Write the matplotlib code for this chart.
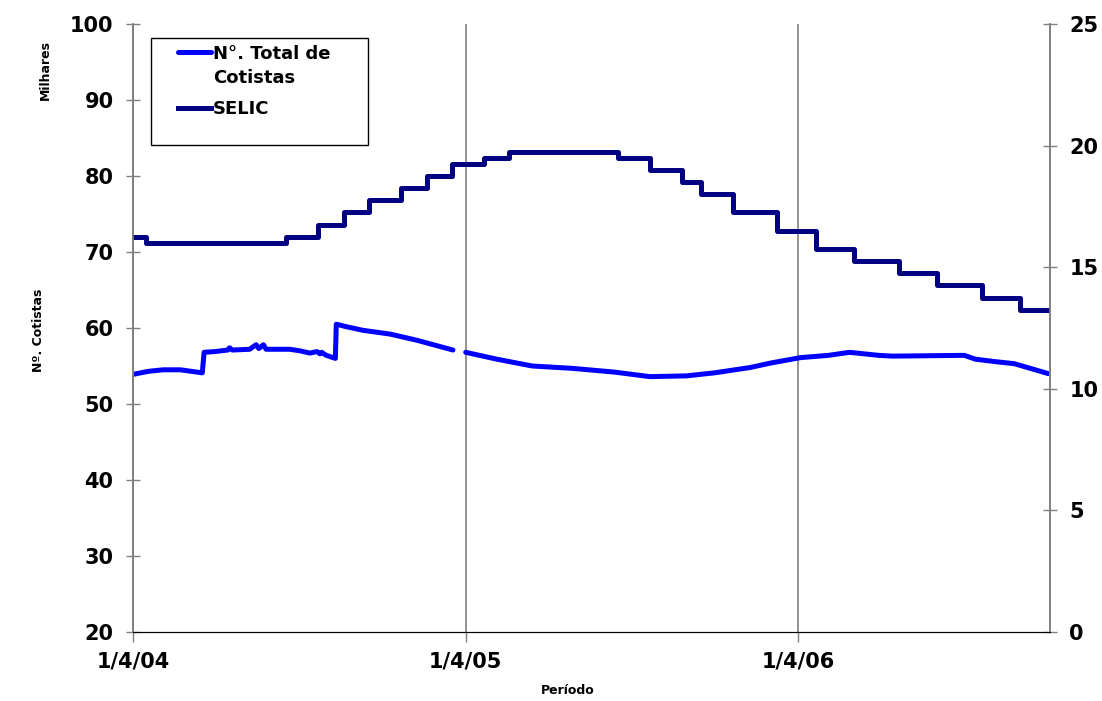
import matplotlib
matplotlib.use('Agg')
import matplotlib.pyplot as plt
from matplotlib.patches import Rectangle
from matplotlib.transforms import ScaledTranslation
import pandas as pd
import numpy as np

# Nº total de cotistas (milhares) - first stretch, up to March 2005
cot_dates_1 = ['2004-04-01', '2004-04-18', '2004-05-04', '2004-05-23', '2004-06-16',
               '2004-06-18', '2004-06-30', '2004-07-14', '2004-07-16', '2004-07-19',
               '2004-08-07', '2004-08-14', '2004-08-17', '2004-08-22', '2004-08-25',
               '2004-09-20', '2004-10-01', '2004-10-12', '2004-10-20', '2004-10-23',
               '2004-10-25', '2004-10-30', '2004-11-09', '2004-11-10', '2004-11-20',
               '2004-12-09', '2005-01-08', '2005-02-06', '2005-03-18']
cot_vals_1 = [53.9, 54.3, 54.5, 54.5, 54.1,
              56.8, 56.9, 57.1, 57.4, 57.1,
              57.2, 57.8, 57.3, 57.8, 57.2,
              57.2, 57.0, 56.7, 56.9, 56.6,
              56.8, 56.4, 56.0, 60.5, 60.2,
              59.7, 59.2, 58.4, 57.1]

# second stretch, from April 2005
cot_dates_2 = ['2005-04-01', '2005-05-05', '2005-06-13', '2005-07-26', '2005-09-11',
               '2005-10-20', '2005-11-29', '2005-12-30', '2006-02-07', '2006-03-02',
               '2006-04-03', '2006-05-04', '2006-05-27', '2006-06-28', '2006-07-13',
               '2006-09-30', '2006-10-12', '2006-11-01', '2006-11-24', '2006-12-31']
cot_vals_2 = [56.8, 55.9, 55.0, 54.7, 54.2,
              53.6, 53.7, 54.1, 54.8, 55.4,
              56.1, 56.4, 56.8, 56.4, 56.3,
              56.4, 55.9, 55.6, 55.3, 54.0]

# SELIC (% a.a.) - step changes
selic_dates = ['2004-04-01', '2004-04-15', '2004-09-16', '2004-10-21', '2004-11-18',
               '2004-12-16', '2005-01-20', '2005-02-17', '2005-03-17', '2005-04-21',
               '2005-05-19', '2005-09-15', '2005-10-20', '2005-11-24', '2005-12-15',
               '2006-01-19', '2006-03-09', '2006-04-20', '2006-06-01', '2006-07-20',
               '2006-08-31', '2006-10-19', '2006-11-30', '2006-12-31']
selic_vals = [16.25, 16.0, 16.25, 16.75, 17.25,
              17.75, 18.25, 18.75, 19.25, 19.5,
              19.75, 19.5, 19.0, 18.5, 18.0,
              17.25, 16.5, 15.75, 15.25, 14.75,
              14.25, 13.75, 13.25, 13.25]

xtick_dates = ['2004-04-01', '2005-04-01', '2006-04-01']
xtick_labels = ['1/4/04', '1/4/05', '1/4/06']

cot = pd.concat([
    pd.Series(cot_vals_1, index=pd.to_datetime(cot_dates_1)),
    pd.Series([np.nan], index=pd.to_datetime(['2005-03-25'])),
    pd.Series(cot_vals_2, index=pd.to_datetime(cot_dates_2)),
])
selic = pd.Series(selic_vals, index=pd.to_datetime(selic_dates))

fig = plt.figure(figsize=(11.02, 7.01), dpi=100)
ax = fig.add_axes([133 / 1102, 1 - 632 / 701, 917 / 1102, 608 / 701])
ax2 = ax.twinx()

l1, = ax.plot(cot.index, cot.values, color='#0000FF', lw=3.6,
              solid_capstyle='round', label='N°. Total de\nCotistas')
l2, = ax2.step(selic.index, selic.values, where='post', color='#000080', lw=3.6,
               label='SELIC')

ax.set_xlim(pd.Timestamp('2004-04-01'), pd.Timestamp('2007-01-02'))
ax.set_ylim(20, 100)
ax2.set_ylim(0, 25)
ax.set_yticks(range(20, 101, 10))
ax2.set_yticks(range(0, 26, 5))
ax.set_xticks(pd.to_datetime(xtick_dates))
ax.set_xticklabels(xtick_labels)

tick_font = dict(fontsize=15, fontweight='bold', family='DejaVu Sans')
for lab in ax.get_yticklabels() + ax2.get_yticklabels() + ax.get_xticklabels():
    lab.set(**tick_font)
# Excel shifts the date labels a bit to the left
for lab in ax.get_xticklabels():
    lab.set_transform(lab.get_transform() + ScaledTranslation(-6 / 100, 0, fig.dpi_scale_trans))

ax.tick_params(axis='y', direction='inout', length=10, width=1, color='#808080', pad=9)
ax2.tick_params(axis='y', direction='inout', length=10, width=1, color='#808080', pad=9)
ax.tick_params(axis='x', direction='out', length=7, width=1, color='#808080', pad=7)

ax.grid(axis='x', color='#808080', lw=1.2)
ax.set_axisbelow(True)
for a in (ax, ax2):
    a.spines['top'].set_visible(False)
    a.spines['left'].set_color('#808080')
    a.spines['right'].set_color('#808080')
    a.spines['bottom'].set_color('black')
    a.spines['left'].set_linewidth(1.2)
    a.spines['right'].set_linewidth(1.2)

small = dict(fontsize=9, fontweight='bold', family=['Liberation Sans Narrow', 'DejaVu Sans'])
ax.set_ylabel('Nº. Cotistas', **small)
ax.yaxis.set_label_coords(-0.096, 0.497)
ax.text(-0.096, 0.925, 'Milhares', rotation=90, ha='center', va='center',
        transform=ax.transAxes, **small)
ax.set_xlabel('Período', **small)
ax.xaxis.set_label_coords(0.474, -0.086)

# legend box
ax2.add_patch(Rectangle((18 / 917, (632 - 145) / 608), 217 / 917, 107 / 608,
                        transform=ax.transAxes, fill=False, edgecolor='black',
                        lw=1, clip_on=False, zorder=5))
leg = ax2.legend(handles=[l1, l2], loc='upper left',
                 bbox_to_anchor=(45 / 917, (632 - 45) / 608), frameon=False,
                 prop=dict(size=13, weight='bold', family='DejaVu Sans'),
                 handlelength=1.8, handleheight=1.1, handletextpad=0.15,
                 labelspacing=0.75, borderpad=0, borderaxespad=0)
for t in leg.get_texts():
    t.set_linespacing(1.4)
for col in leg._legend_handle_box.get_children():
    for row in col.get_children():
        row.align = 'top'

fig.savefig('out.png', dpi=100)
